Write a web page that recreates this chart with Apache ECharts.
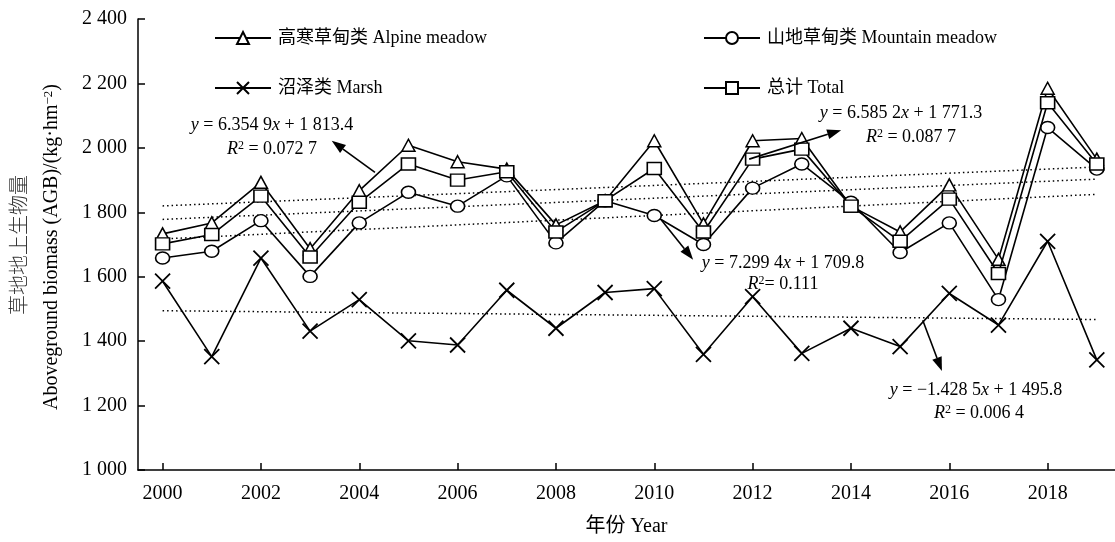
<!DOCTYPE html>
<html>
<head>
<meta charset="utf-8">
<script src="https://cdn.jsdelivr.net/npm/echarts@6/dist/echarts.min.js"></script>
<style>
  html, body { margin: 0; padding: 0; background: #fff; }
  #chart { width: 1115px; height: 542px; }
</style>
</head>
<body>
<div id="chart"></div>
<script>
// Aboveground biomass of grassland types, 2000–2019 (kg·hm⁻²)
const years = [2000, 2001, 2002, 2003, 2004, 2005, 2006, 2007, 2008, 2009,
               2010, 2011, 2012, 2013, 2014, 2015, 2016, 2017, 2018, 2019];
const xTickYears = [2000, 2002, 2004, 2006, 2008, 2010, 2012, 2014, 2016, 2018];

const alpineMeadow   = [1733, 1767, 1893, 1687, 1867, 2008, 1957, 1934, 1761, 1836,
                        2022, 1764, 2022, 2029, 1819, 1739, 1885, 1654, 2185, 1965];
const mountainMeadow = [1658, 1679, 1774, 1601, 1767, 1862, 1819, 1913, 1705, 1836,
                        1790, 1700, 1875, 1950, 1831, 1675, 1767, 1529, 2063, 1934];
const marsh          = [1586, 1352, 1658, 1431, 1529, 1401, 1388, 1558, 1440, 1551,
                        1563, 1359, 1538, 1362, 1440, 1383, 1548, 1450, 1710, 1342];
const total          = [1702, 1731, 1850, 1661, 1831, 1950, 1900, 1926, 1739, 1836,
                        1936, 1739, 1965, 1996, 1819, 1710, 1841, 1610, 2140, 1950];

const seriesNames = ['高寒草甸类 Alpine meadow', '山地草甸类 Mountain meadow', '沼泽类 Marsh', '总计 Total'];

// Linear fits y = slope·n + intercept, n = 1 … 20 (year index)
const fitSlopes     = [6.3549, 7.2994, -1.4285, 6.5852];
const fitIntercepts = [1813.4, 1709.8, 1495.8, 1771.3];
const fitLabels = [
  ['{i|y} = 6.354 9{i|x} + 1 813.4', '{i|R}{s|2} = 0.072 7'],
  ['{i|y} = 7.299 4{i|x} + 1 709.8', '{i|R}{s|2}= 0.111'],
  ['{i|y} = −1.428 5{i|x} + 1 495.8', '{i|R}{s|2} = 0.006 4'],
  ['{i|y} = 6.585 2{i|x} + 1 771.3', '{i|R}{s|2} = 0.087 7']
];

// Callout arrows, tail → tip, in axis units (year, biomass)
const arrowTails = [[2004.32, 1924], [2010.14, 1777], [2015.46, 1465], [2011.93, 1965]];
const arrowTips  = [[2003.44, 2022], [2010.79, 1653], [2015.85, 1307], [2013.80, 2055]];
// Equation text anchors in pixels: [x1, y1, x2, y2] for the two lines
const labelSpots = [[272, 125, 272, 149], [783, 263, 783, 284], [976, 390, 979, 413], [901, 113, 911, 137]];

const SERIF = "'Liberation Serif', 'Times New Roman', 'Noto Sans CJK SC', serif";
const INK = '#000';

function pairs(vals) { return years.map((y, i) => [y, vals[i]]); }
function thinThousands(v) {
  const s = String(v);
  return s.length > 3 ? s.slice(0, s.length - 3) + ' ' + s.slice(-3) : s;
}

const symbolSpec = [
  { symbol: 'triangle', size: [13, 12] },
  { symbol: 'circle', size: [14, 12] },
  { symbol: 'path://M0,0L10,10M0,10L10,0', size: [15, 15] },
  { symbol: 'rect', size: [14, 12] }
];
const seriesValues = [alpineMeadow, mountainMeadow, marsh, total];

const trendSeries = fitSlopes.map((k, i) => ({
  type: 'line',
  name: 'trend' + i,
  silent: true,
  symbol: 'none',
  z: 1,
  data: [[years[0], k * 1 + fitIntercepts[i]], [years[years.length - 1], k * years.length + fitIntercepts[i]]],
  lineStyle: { color: INK, width: 1.5, type: [1.5, 3] }
}));

const dataSeries = seriesValues.map((vals, i) => ({
  type: 'line',
  name: seriesNames[i],
  data: pairs(vals),
  z: 3 + i,
  showAllSymbol: true,
  symbol: symbolSpec[i].symbol,
  symbolSize: symbolSpec[i].size,
  color: INK,
  lineStyle: { color: INK, width: 1.6 },
  itemStyle: { color: '#fff', borderColor: INK, borderWidth: i === 2 ? 1.8 : 1.5, opacity: 1 },
  emphasis: { disabled: true }
}));

const legendCommon = {
  orient: 'vertical',
  itemWidth: 56,
  itemHeight: 15,
  itemGap: 32,
  selectedMode: false,
  textStyle: { fontFamily: SERIF, fontSize: 18, color: INK, padding: [0, 0, 0, 2] }
};

const chart = echarts.init(document.getElementById('chart'), null, { renderer: 'canvas' });

chart.setOption({
  animation: false,
  backgroundColor: '#fff',
  grid: { left: 138, right: 0, top: 19, bottom: 70, containLabel: false },
  legend: [
    Object.assign({ left: 209, top: 24, data: [seriesNames[0], seriesNames[2]] }, legendCommon),
    Object.assign({ left: 698, top: 24, data: [seriesNames[1], seriesNames[3]] }, legendCommon)
  ],
  xAxis: {
    type: 'value',
    min: 1999.5,
    max: 2019.37,
    name: '年份 Year',
    nameLocation: 'middle',
    nameGap: 47,
    nameTextStyle: { fontFamily: SERIF, fontSize: 20, color: INK },
    axisLine: { lineStyle: { color: INK, width: 1.5 } },
    axisTick: { inside: true, length: 7, lineStyle: { color: INK, width: 1.5 }, customValues: xTickYears },
    axisLabel: { customValues: xTickYears, margin: 14, fontFamily: SERIF, fontSize: 20, color: INK,
                 formatter: v => String(v) },
    splitLine: { show: false }
  },
  yAxis: {
    type: 'value',
    min: 1000,
    max: 2400,
    interval: 200,
    axisLine: { show: true, lineStyle: { color: INK, width: 1.5 } },
    axisTick: { show: true, inside: true, length: 7, lineStyle: { color: INK, width: 1.5 } },
    axisLabel: { margin: 11, fontFamily: SERIF, fontSize: 20, color: INK, formatter: thinThousands },
    splitLine: { show: false }
  },
  series: trendSeries.concat(dataSeries)
});

// Axis title, equations and callout arrows
const richText = {
  i: { fontStyle: 'italic', fontFamily: SERIF, fontSize: 18, fill: INK },
  s: { fontFamily: SERIF, fontSize: 12, fill: INK, verticalAlign: 'top', padding: [0, 0, 0, 0] }
};
const graphics = [];

graphics.push({
  type: 'text', x: 18, y: 245, rotation: Math.PI / 2,
  style: { text: '草地地上生物量', fontFamily: "'Noto Sans CJK SC', sans-serif", fontWeight: 300,
           fontSize: 20, fill: '#333', align: 'center', verticalAlign: 'middle' }
});
graphics.push({
  type: 'text', x: 52, y: 247, rotation: Math.PI / 2,
  style: {
    text: 'Aboveground biomass (AGB)/(kg·hm{s|−2})',
    fontFamily: SERIF, fontSize: 20, fill: INK, align: 'center', verticalAlign: 'middle',
    rich: { s: { fontFamily: SERIF, fontSize: 13, fill: INK, verticalAlign: 'top' } }
  }
});

fitLabels.forEach((lines, i) => {
  const p = labelSpots[i];
  [0, 1].forEach(j => {
    graphics.push({
      type: 'text', x: p[j * 2], y: p[j * 2 + 1],
      style: { text: lines[j], fontFamily: SERIF, fontSize: 18, fill: INK,
               align: 'center', verticalAlign: 'middle', rich: richText }
    });
  });
});

arrowTails.forEach((tail, i) => {
  const a = chart.convertToPixel({ gridIndex: 0 }, tail);
  const b = chart.convertToPixel({ gridIndex: 0 }, arrowTips[i]);
  const dx = b[0] - a[0], dy = b[1] - a[1];
  const len = Math.sqrt(dx * dx + dy * dy);
  const ux = dx / len, uy = dy / len;
  const headLen = 14, halfW = 5;
  const base = [b[0] - ux * headLen, b[1] - uy * headLen];
  graphics.push({
    type: 'line', z: 20,
    shape: { x1: a[0], y1: a[1], x2: base[0], y2: base[1] },
    style: { stroke: INK, lineWidth: 1.6 }
  });
  graphics.push({
    type: 'polygon', z: 20,
    shape: { points: [b, [base[0] - uy * halfW, base[1] + ux * halfW], [base[0] + uy * halfW, base[1] - ux * halfW]] },
    style: { fill: INK }
  });
});

chart.setOption({ graphic: graphics });
</script>
</body>
</html>
